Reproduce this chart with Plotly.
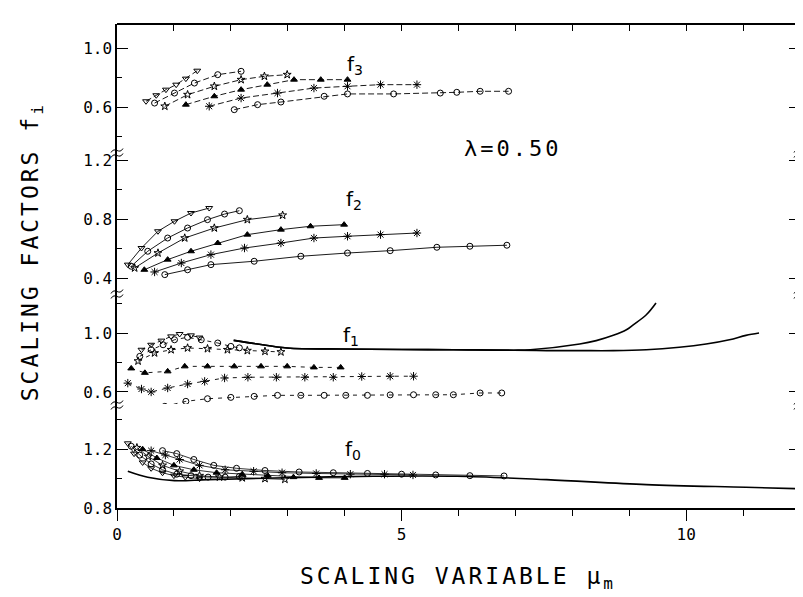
import plotly.graph_objects as go

# ---------------- data ----------------
SYMBOLS = ["triangle-down-open", "circle-open", "star-open",
           "triangle-up", "asterisk-open", "circle-open"]

# f3 panel: six series (x = mu_m, y = f3)
F3_X = [
    [0.51, 0.69, 0.86, 1.04, 1.21, 1.41],
    [0.66, 1.01, 1.36, 1.77, 2.18],
    [0.84, 1.24, 1.71, 2.18, 2.59, 2.99],
    [1.21, 1.71, 2.18, 2.64, 3.11, 3.58, 4.05],
    [1.62, 2.18, 2.82, 3.46, 4.05, 4.63, 5.27],
    [2.06, 2.47, 2.88, 3.64, 4.05, 4.86, 5.68, 5.97, 6.38, 6.88],
]
F3_Y = [
    [0.639, 0.680, 0.718, 0.752, 0.793, 0.847],
    [0.627, 0.695, 0.763, 0.820, 0.843],
    [0.605, 0.684, 0.741, 0.786, 0.809, 0.820],
    [0.616, 0.673, 0.718, 0.752, 0.786, 0.786, 0.786],
    [0.605, 0.661, 0.695, 0.729, 0.741, 0.752, 0.752],
    [0.582, 0.616, 0.634, 0.673, 0.689, 0.689, 0.695, 0.700, 0.707, 0.707],
]

# f2 panel
F2_X = [
    [0.19, 0.43, 0.72, 1.01, 1.30, 1.62],
    [0.25, 0.54, 0.89, 1.24, 1.59, 1.89, 2.15],
    [0.31, 0.72, 1.19, 1.71, 2.29, 2.91],
    [0.48, 0.89, 1.30, 1.77, 2.29, 2.88, 3.40, 3.99],
    [0.66, 1.13, 1.65, 2.24, 2.88, 3.46, 4.05, 4.63, 5.27],
    [0.84, 1.24, 1.65, 2.41, 3.23, 4.05, 4.80, 5.62, 6.20, 6.85],
]
F2_Y = [
    [0.491, 0.604, 0.718, 0.786, 0.842, 0.876],
    [0.480, 0.582, 0.672, 0.740, 0.797, 0.835, 0.858],
    [0.468, 0.570, 0.672, 0.740, 0.797, 0.827],
    [0.456, 0.525, 0.582, 0.638, 0.695, 0.729, 0.752, 0.763],
    [0.441, 0.502, 0.559, 0.604, 0.638, 0.672, 0.684, 0.695, 0.706],
    [0.423, 0.456, 0.491, 0.514, 0.548, 0.570, 0.586, 0.609, 0.616, 0.623],
]

# f1 panel
F1_X = [
    [0.43, 0.60, 0.78, 0.95, 1.10, 1.30, 1.45],
    [0.40, 0.60, 0.81, 1.01, 1.24, 1.48, 1.77, 2.00, 2.15],
    [0.37, 0.66, 0.95, 1.24, 1.59, 1.94, 2.29, 2.60, 2.88],
    [0.25, 0.49, 0.89, 1.19, 1.59, 2.06, 2.53, 2.99, 3.46, 3.93],
    [0.19, 0.43, 0.60, 0.89, 1.24, 1.54, 1.89, 2.30, 2.80, 3.30, 3.80, 4.30, 4.80, 5.21],
    [0.84, 1.21, 1.59, 2.00, 2.41, 2.82, 3.23, 3.64, 4.02, 4.40, 4.80, 5.21, 5.60, 5.91, 6.38, 6.76],
]
F1_Y = [
    [0.887, 0.921, 0.949, 0.978, 0.994, 0.985, 0.970],
    [0.842, 0.887, 0.921, 0.955, 0.972, 0.955, 0.933, 0.910, 0.900],
    [0.810, 0.865, 0.887, 0.899, 0.894, 0.887, 0.881, 0.876, 0.872],
    [0.760, 0.730, 0.740, 0.774, 0.774, 0.774, 0.774, 0.774, 0.767, 0.767],
    [0.660, 0.620, 0.600, 0.627, 0.654, 0.672, 0.695, 0.700, 0.700, 0.700, 0.700, 0.705, 0.707, 0.707],
    [0.502, 0.536, 0.554, 0.563, 0.570, 0.577, 0.577, 0.577, 0.577, 0.577, 0.580, 0.581, 0.581, 0.581, 0.593, 0.593],
]
# f1 solid curves
F1_LINE_A_X = [2.05, 2.44, 2.99, 3.93, 5.00, 5.91, 6.97, 7.26, 8.13, 8.42, 8.72, 8.95, 9.07, 9.30, 9.47]
F1_LINE_A_Y = [0.951, 0.928, 0.899, 0.892, 0.889, 0.887, 0.884, 0.887, 0.926, 0.949, 0.985, 1.023, 1.057, 1.125, 1.205]
F1_LINE_B_X = [2.05, 2.44, 2.99, 3.93, 5.00, 5.91, 6.97, 7.55, 8.13, 8.72, 9.30, 9.88, 10.35, 10.76, 11.05, 11.28]
F1_LINE_B_Y = [0.951, 0.928, 0.899, 0.892, 0.889, 0.887, 0.884, 0.881, 0.881, 0.881, 0.887, 0.904, 0.926, 0.955, 0.985, 1.001]

# f0 panel
F0_X = [
    [0.19, 0.30, 0.45, 0.60, 0.80, 1.00, 1.20, 1.45],
    [0.25, 0.40, 0.60, 0.80, 1.05, 1.30, 1.60, 1.90, 2.15],
    [0.35, 0.55, 0.80, 1.10, 1.45, 1.80, 2.20, 2.60, 2.95],
    [0.45, 0.70, 1.00, 1.35, 1.75, 2.20, 2.65, 3.10, 3.55, 4.00],
    [0.60, 0.85, 1.10, 1.45, 1.90, 2.40, 2.90, 3.50, 4.10, 4.70, 5.20],
    [0.80, 1.05, 1.35, 1.70, 2.10, 2.60, 3.20, 3.80, 4.40, 5.00, 5.60, 6.20, 6.80],
]
F0_Y = [
    [1.240, 1.170, 1.110, 1.070, 1.040, 1.020, 1.010, 1.000],
    [1.220, 1.160, 1.100, 1.060, 1.030, 1.020, 1.010, 1.010, 1.015],
    [1.210, 1.150, 1.090, 1.050, 1.020, 1.010, 1.005, 1.000, 0.995],
    [1.200, 1.140, 1.090, 1.060, 1.040, 1.030, 1.020, 1.010, 1.005, 1.005],
    [1.190, 1.160, 1.130, 1.090, 1.060, 1.050, 1.040, 1.035, 1.030, 1.030, 1.025],
    [1.190, 1.170, 1.130, 1.090, 1.070, 1.055, 1.045, 1.040, 1.035, 1.030, 1.025, 1.020, 1.018],
]
F0_LINE_X = [0.19, 0.54, 1.01, 1.59, 2.76, 4.51, 5.97, 7.55, 9.30, 11.05, 11.98]
F0_LINE_Y = [1.050, 1.009, 0.986, 0.993, 1.004, 1.016, 1.016, 0.993, 0.959, 0.941, 0.931]

# axis ranges (broken y axis, four stacked panels)
X_RANGE = [0, 12.0]
F0_RANGE = [0.8, 1.5075]
F1_RANGE = [0.518, 1.2731]
F2_RANGE = [0.298, 1.2572]
F3_RANGE = [0.294, 1.1647]

# ---------------- figure ----------------
W, H = 803, 597
ML, MR, MT, MB = 109, 9, 16, 97
PW, PH = W - ML - MR, H - MT - MB

def py(p):  # pixel row -> paper y
    return (H - MB - p) / PH

def px(p):  # pixel column -> paper x
    return (p - ML) / PW

D0 = [0, py(396)]
D1 = [py(396), py(285)]
D2 = [py(285), py(144)]
D3 = [py(144), 1]

MONO = "DejaVu Sans Mono"
fig = go.Figure()

def add_panel(xs, ys, yax, dash, lw=0.9):
    for i, (x, y) in enumerate(zip(xs, ys)):
        fig.add_trace(go.Scatter(
            x=x, y=y, xaxis="x", yaxis=yax, mode="lines+markers",
            line=dict(color="black", width=lw, dash=dash),
            marker=dict(symbol=SYMBOLS[i], size=6 if i != 4 else 7, color="black",
                        line=dict(color="black", width=1)),
            showlegend=False, hoverinfo="skip"))

add_panel(F3_X, F3_Y, "y4", "6px,3px")
add_panel(F2_X, F2_Y, "y3", "solid")
add_panel(F1_X, F1_Y, "y2", "4px,5px")
add_panel(F0_X, F0_Y, "y", "solid", 0.8)

for lx, ly, yax in [(F1_LINE_A_X, F1_LINE_A_Y, "y2"),
                    (F1_LINE_B_X, F1_LINE_B_Y, "y2"),
                    (F0_LINE_X, F0_LINE_Y, "y")]:
    fig.add_trace(go.Scatter(x=lx, y=ly, xaxis="x", yaxis=yax, mode="lines",
                             line=dict(color="black", width=1.6, shape="spline"),
                             showlegend=False, hoverinfo="skip"))

# empty trace so the top tick axis is drawn
fig.add_trace(go.Scatter(x=[None], y=[None], xaxis="x2", yaxis="y",
                         showlegend=False, hoverinfo="skip"))

def yax(dom, rng, tick0):
    return dict(domain=dom, range=rng, anchor="x", showline=True, linecolor="black",
                linewidth=1.5, mirror="ticks", ticks="inside", ticklen=11,
                tickwidth=1.3, tickcolor="black", tick0=tick0, dtick=0.4,
                tickformat=".1f", showgrid=False, zeroline=False,
                tickfont=dict(family=MONO, size=16, color="black"),
                minor=dict(ticks="inside", dtick=0.2, tick0=0, ticklen=5,
                           tickcolor="black", tickwidth=1.1, showgrid=False))

fig.update_layout(
    width=W, height=H, margin=dict(l=ML, r=MR, t=MT, b=MB),
    paper_bgcolor="white", plot_bgcolor="white", showlegend=False,
    xaxis=dict(range=X_RANGE, anchor="y", showline=True, linecolor="black",
               linewidth=1.5, ticks="outside", tick0=0, dtick=5, ticklen=11,
               tickwidth=1.3, tickcolor="black", showgrid=False, zeroline=False,
               tickfont=dict(family=MONO, size=16, color="black"),
               minor=dict(ticks="outside", dtick=1, ticklen=6, tickcolor="black",
                          tickwidth=1.1, showgrid=False)),
    xaxis2=dict(range=X_RANGE, overlaying="x", side="top", anchor="free", position=1,
                showline=True, linecolor="black", linewidth=1.5, ticks="inside",
                dtick=1, ticklen=6, tickcolor="black", showticklabels=False,
                showgrid=False, zeroline=False),
    yaxis=yax(D0, F0_RANGE, 0),
    yaxis2=yax(D1, F1_RANGE, 0.2),
    yaxis3=yax(D2, F2_RANGE, 0),
    yaxis4=yax(D3, F3_RANGE, 0.2),
)

SP = "letter-spacing:3px"
ann = [
    dict(x=px(451), y=py(570), text=f'<span style="{SP}">SCALING VARIABLE μ<sub>m</sub></span>',
         font=dict(family=MONO, size=23, color="black")),
    dict(x=px(24), y=py(244), textangle=-90,
         text=f'<span style="{SP}">SCALING FACTORS f<sub>i</sub></span>',
         font=dict(family=MONO, size=23, color="black")),
    dict(x=px(506), y=py(140), text=f'<span style="{SP}">λ=0.50</span>',
         font=dict(family=MONO, size=22, color="black")),
    dict(x=px(348), y=py(57), text="f<sub>3</sub>", font=dict(family="DejaVu Sans", size=20, color="black")),
    dict(x=px(347), y=py(192), text="f<sub>2</sub>", font=dict(family="DejaVu Sans", size=20, color="black")),
    dict(x=px(344), y=py(328), text="f<sub>1</sub>", font=dict(family="DejaVu Sans", size=20, color="black")),
    dict(x=px(346), y=py(442), text="f<sub>0</sub>", font=dict(family="DejaVu Sans", size=20, color="black")),
]
for a in ann:
    a.update(xref="paper", yref="paper", showarrow=False, xanchor="center", yanchor="middle")

# axis-break marks: two small S-curves crossing the left and right axes
shapes = []
for b in [144, 285, 396]:
    for ax_px in (ML, ML + PW):
        for off in (-2.5, 2.5):
            pts = [(-6, 3 + off), (-2, -4 + off), (2, 6 + off), (6, -1 + off)]
            p = [(px(ax_px + dx), py(b + dy)) for dx, dy in pts]
            path = (f"M {p[0][0]},{p[0][1]} C {p[1][0]},{p[1][1]} "
                    f"{p[2][0]},{p[2][1]} {p[3][0]},{p[3][1]}")
            shapes.append(dict(type="path", path=path, xref="paper", yref="paper",
                               line=dict(color="black", width=1)))
fig.update_layout(annotations=ann, shapes=shapes)

fig.write_html("out.html")
